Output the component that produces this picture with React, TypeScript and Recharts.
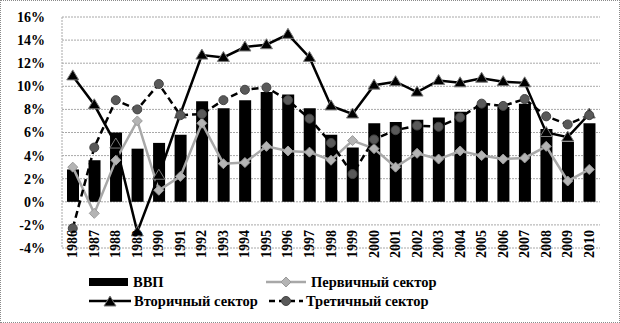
import React from 'react'
import {
  Bar,
  CartesianGrid,
  ComposedChart,
  Line,
  XAxis,
  YAxis
} from 'recharts'

const years = [
  '1986', '1987', '1988', '1989', '1990', '1991', '1992', '1993', '1994',
  '1995', '1996', '1997', '1998', '1999', '2000', '2001', '2002', '2003',
  '2004', '2005', '2006', '2007', '2008', '2009', '2010'
]

const gdp = [
  2.8, 3.6, 6.0, 4.6, 5.1, 5.8, 8.7, 8.1, 8.8, 9.5, 9.3, 8.1, 5.8, 4.7,
  6.8, 6.9, 7.1, 7.3, 7.8, 8.4, 8.2, 8.5, 6.3, 5.2, 6.8
]

const primary = [
  3.0, -1.0, 3.6, 7.0, 1.0, 2.2, 6.8, 3.3, 3.4, 4.8, 4.4, 4.3, 3.6, 5.3,
  4.6, 3.0, 4.2, 3.7, 4.4, 4.0, 3.7, 3.8, 4.8, 1.8, 2.8
]

const secondary = [
  10.9, 8.4, 5.0, -2.6, 2.3, 7.6, 12.7, 12.5, 13.4, 13.6, 14.5, 12.5, 8.3,
  7.6, 10.1, 10.4, 9.5, 10.5, 10.3, 10.7, 10.4, 10.3, 6.0, 5.6, 7.6
]

const tertiary = [
  -2.3, 4.7, 8.8, 8.0, 10.2, 7.5, 7.6, 8.8, 9.7, 9.9, 8.8, 7.2, 5.1, 2.4,
  5.4, 6.2, 6.6, 6.5, 7.3, 8.5, 8.3, 8.9, 7.4, 6.7, 7.5
]

const yTicks = [-4, -2, 0, 2, 4, 6, 8, 10, 12, 14, 16]

const data = years.map((year, i) => ({
  year,
  gdp: gdp[i],
  primary: primary[i],
  secondary: secondary[i],
  tertiary: tertiary[i]
}))

const FONT = '"Liberation Serif", "Times New Roman", serif'
const GRAY = '#a8a8a8'

const YearTick = ({ x, y, payload }: any) => {
  const ty = y - 18
  return (
    <text
      x={x}
      y={ty}
      transform={`rotate(-90, ${x}, ${ty})`}
      textAnchor="end"
      dominantBaseline="central"
      style={{ fontFamily: FONT, fontWeight: 'bold', fontSize: 14 }}
      fill="#000"
    >
      {payload.value}
    </text>
  )
}

const Diamond = ({ cx, cy }: any) => (
  <path
    d={`M${cx},${cy - 5} L${cx + 5},${cy} L${cx},${cy + 5} L${cx - 5},${cy} Z`}
    fill="#b4b4b4"
    stroke="#9a9a9a"
    strokeWidth={1}
  />
)

const Triangle = ({ cx, cy }: any) => (
  <path
    d={`M${cx},${cy - 6} L${cx + 6},${cy + 4} L${cx - 6},${cy + 4} Z`}
    fill="#000"
    stroke="#7a7a7a"
    strokeWidth={1}
  />
)

const Circle = ({ cx, cy }: any) => (
  <circle cx={cx} cy={cy} r={4.5} fill="#595959" stroke="#444" strokeWidth={1} />
)

const legendText = {
  style: { fontFamily: FONT, fontWeight: 'bold' as const, fontSize: 14.5 },
  fill: '#000'
}

const ChartLegend = () => (
  <svg
    width={620}
    height={50}
    style={{ position: 'absolute', left: 0, top: 266 }}
  >
    <g>
      <rect x={88} y={11} width={39} height={8} fill="#000" />
      <text x={132} y={15} dominantBaseline="central" {...legendText}>ВВП</text>

      <line x1={265} y1={15} x2={305} y2={15} stroke={GRAY} strokeWidth={2.5} />
      <Diamond cx={285} cy={15} />
      <text x={310} y={15} dominantBaseline="central" {...legendText}>Первичный сектор</text>

      <line x1={88} y1={34} x2={130} y2={34} stroke="#000" strokeWidth={2.5} />
      <Triangle cx={109} cy={35} />
      <text x={133} y={34} dominantBaseline="central" {...legendText}>Вторичный сектор</text>

      <line
        x1={268}
        y1={34}
        x2={302}
        y2={34}
        stroke="#000"
        strokeWidth={2.5}
        strokeDasharray="6 4"
      />
      <Circle cx={285} cy={34} />
      <text x={305} y={34} dominantBaseline="central" {...legendText}>Третичный сектор</text>
    </g>
  </svg>
)

export default function App() {
  return (
    <div
      style={{
        position: 'absolute',
        left: 0,
        top: 0,
        width: 620,
        height: 323,
        background: '#fff',
        border: '1px dotted #8a8a8a',
        boxSizing: 'border-box'
      }}
    >
      <div style={{ position: 'absolute', left: -1, top: -1 }}>
        <ComposedChart
          width={620}
          height={323}
          data={data}
          margin={{ top: 17, right: 20, bottom: 74, left: 0 }}
        >
          <CartesianGrid
            vertical={false}
            stroke={GRAY}
            strokeDasharray="2 1"
          />
          <XAxis
            dataKey="year"
            interval={0}
            tick={<YearTick />}
            tickLine={false}
            axisLine={false}
            tickSize={0}
            tickMargin={0}
            height={1}
          />
          <YAxis
            domain={[-4, 16]}
            ticks={yTicks}
            width={62}
            tickLine={false}
            axisLine={{ stroke: GRAY, strokeDasharray: '2 1' }}
            tickSize={0}
            tickMargin={17}
            tickFormatter={(v) => `${v}%`}
            tick={{ fontFamily: FONT, fontWeight: 'bold', fontSize: 14, fill: '#000' }}
          />
          <Bar dataKey="gdp" fill="#000" barSize={12} isAnimationActive={false} />
          <Line
            dataKey="primary"
            stroke={GRAY}
            strokeWidth={2.5}
            dot={<Diamond />}
            isAnimationActive={false}
          />
          <Line
            dataKey="secondary"
            stroke="#000"
            strokeWidth={2.5}
            dot={<Triangle />}
            isAnimationActive={false}
          />
          <Line
            dataKey="tertiary"
            stroke="#000"
            strokeWidth={2.5}
            strokeDasharray="7 4"
            dot={<Circle />}
            isAnimationActive={false}
          />
        </ComposedChart>
      </div>
      <ChartLegend />
    </div>
  )
}
